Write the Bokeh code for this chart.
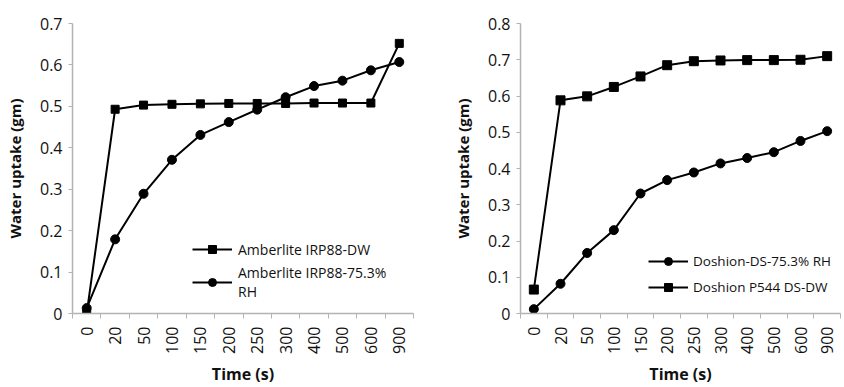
import math
from bokeh.plotting import figure
from bokeh.layouts import row
from bokeh.models import Range1d, FixedTicker, Legend, LegendItem, CustomJSTickFormatter
from bokeh.embed import file_html
from bokeh.resources import INLINE

# ---- data ----
times = ["0", "20", "50", "100", "150", "200", "250", "300", "400", "500", "600", "900"]
amberlite_dw = [0.0, 0.493, 0.503, 0.505, 0.506, 0.507, 0.507, 0.507, 0.508, 0.508, 0.508, 0.652]
amberlite_rh = [0.013, 0.179, 0.289, 0.371, 0.431, 0.462, 0.492, 0.522, 0.549, 0.562, 0.587, 0.607]
doshion_rh = [0.012, 0.082, 0.167, 0.230, 0.331, 0.368, 0.389, 0.414, 0.429, 0.445, 0.476, 0.503]
doshion_dw = [0.066, 0.588, 0.599, 0.625, 0.654, 0.685, 0.696, 0.698, 0.699, 0.699, 0.700, 0.710]
left_yticks = [0, 0.1, 0.2, 0.3, 0.4, 0.5, 0.6, 0.7]
right_yticks = [0, 0.1, 0.2, 0.3, 0.4, 0.5, 0.6, 0.7, 0.8]

FONT = "Open Sans"
AXIS_GRAY = "#b3b3b3"

# category centres on a numeric scale (category i occupies [i, i+1])
xs = [i + 0.5 for i in range(len(times))]
edges = list(range(len(times) + 1))


def make_fig(width, ymax, yticks, border_left, border_right, border_top):
    p = figure(width=width, height=387, output_backend="svg", toolbar_location=None,
               x_range=Range1d(0, len(times)), y_range=Range1d(0, ymax),
               min_border_left=border_left, min_border_right=border_right,
               min_border_top=border_top, min_border_bottom=74)
    p.outline_line_color = None
    p.grid.visible = False
    p.background_fill_color = "white"
    p.border_fill_color = "white"

    xa = p.xaxis[0]
    xa.ticker = FixedTicker(ticks=xs, minor_ticks=edges)
    xa.formatter = CustomJSTickFormatter(args=dict(labels=times),
                                         code="return labels[Math.floor(tick)];")
    xa.major_label_orientation = math.pi / 2
    xa.major_tick_out = 0
    xa.major_tick_in = 0
    xa.minor_tick_out = 5
    xa.minor_tick_in = 0
    xa.minor_tick_line_color = AXIS_GRAY
    xa.axis_line_color = AXIS_GRAY
    xa.axis_line_width = 1.5
    xa.major_label_standoff = 8
    xa.major_label_text_font = FONT
    xa.major_label_text_font_size = "16px"
    xa.major_label_text_color = "#111111"
    xa.axis_label = "Time (s)"
    xa.axis_label_text_font = FONT
    xa.axis_label_text_font_size = "16px"
    xa.axis_label_text_font_style = "bold"
    xa.axis_label_text_color = "#111111"
    xa.axis_label_standoff = 6

    ya = p.yaxis[0]
    ya.ticker = FixedTicker(ticks=yticks)
    ya.formatter = CustomJSTickFormatter(code="return tick === 0 ? '0' : tick.toFixed(1);")
    ya.major_tick_out = 4
    ya.major_tick_in = 0
    ya.major_tick_line_color = AXIS_GRAY
    ya.minor_tick_line_color = None
    ya.axis_line_color = AXIS_GRAY
    ya.axis_line_width = 1.5
    ya.major_label_standoff = 6
    ya.major_label_text_font = FONT
    ya.major_label_text_font_size = "16px"
    ya.major_label_text_color = "#111111"
    ya.axis_label = "Water uptake (gm)"
    ya.axis_label_text_font = FONT
    ya.axis_label_text_font_size = "15px"
    ya.axis_label_text_font_style = "bold"
    ya.axis_label_text_color = "#111111"
    ya.axis_label_standoff = 12
    return p


def series(p, ys, marker, size):
    ln = p.line(xs, ys, line_color="black", line_width=2)
    sc = p.scatter(xs, ys, marker=marker, size=size, fill_color="black", line_color="black")
    return [ln, sc]


# ---- left panel ----
p1 = make_fig(420, 0.7, left_yticks, 72, 7, 22)
r_dw = series(p1, amberlite_dw, "square", 8)
r_rh = series(p1, amberlite_rh, "circle", 9)
leg1 = Legend(items=[LegendItem(label="Amberlite IRP88-DW", renderers=r_dw),
                     LegendItem(label="Amberlite IRP88-75.3%\nRH", renderers=r_rh)],
              location=(120, 12), glyph_width=40, label_standoff=6, padding=0, spacing=4,
              background_fill_alpha=0, border_line_alpha=0,
              label_text_font=FONT, label_text_font_size="14px", label_text_color="#111111")
p1.add_layout(leg1, "center")

# ---- right panel ----
p2 = make_fig(424, 0.8, right_yticks, 100, 4, 23)
r_drh = series(p2, doshion_rh, "circle", 9)
r_ddw = series(p2, doshion_dw, "square", 9)
leg2 = Legend(items=[LegendItem(label="Doshion-DS-75.3% RH", renderers=r_drh),
                     LegendItem(label="Doshion P544 DS-DW", renderers=r_ddw)],
              location=(128, 16), glyph_width=40, label_standoff=5, padding=0, spacing=6,
              background_fill_alpha=0, border_line_alpha=0,
              label_text_font=FONT, label_text_font_size="13.5px", label_text_color="#111111")
p2.add_layout(leg2, "center")

layout = row(p1, p2)
open("out.html", "w").write(file_html(layout, INLINE))
